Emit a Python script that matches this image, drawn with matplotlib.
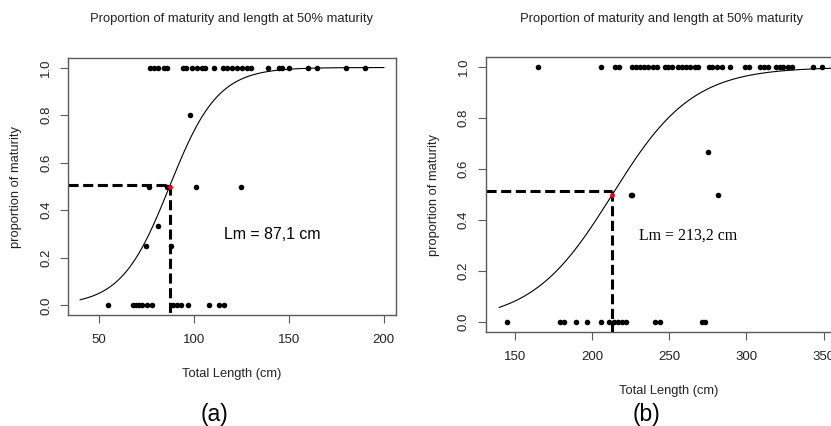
import matplotlib.pyplot as plt
import numpy as np

plt.rcParams['font.family'] = ['Liberation Sans', 'DejaVu Sans']

title = 'Proportion of maturity and length at 50% maturity'

# panel (a)
len_a = [77, 79, 81, 84, 86, 94, 96, 99, 101.5, 104, 106, 110.5, 115, 117.5, 120,
         122.5, 125.5, 128, 130, 139, 144.5, 146.5, 150, 160, 165, 180, 190,
         54.5, 68, 69.5, 71, 72.5, 75, 78, 89, 91, 93, 97, 108, 113, 116,
         74.5, 88, 81, 76.5, 85.5, 101, 125, 98]
prop_a = [1] * 27 + [0] * 14 + [0.25, 0.25, 0.333, 0.5, 0.5, 0.5, 0.5, 0.8]
lm_a = 87.1
slope_a = 0.0786
curve_range_a = (40, 200)
guide_y_a = 0.505
xticks_a = [50, 100, 150, 200]

# panel (b)
len_b = [165, 206, 215, 217.5, 226, 228.5, 231, 234, 236.5, 239.5, 242, 247, 249.5,
         252, 256, 258, 261, 263.5, 266.5, 269, 275.5, 278, 281, 284, 289.5, 299,
         302, 309, 311.5, 314, 319.5, 322, 324, 327, 329.5, 343, 349,
         145, 179.5, 182, 189.5, 197, 206, 211, 214.5, 217, 219.5, 222, 241, 244,
         271.5, 273.5,
         225, 226, 281.5, 275]
prop_b = [1] * 37 + [0] * 15 + [0.5, 0.5, 0.5, 0.667]
lm_b = 213.2
slope_b = 0.0384
curve_range_b = (140, 360)
guide_y_b = 0.512
xticks_b = [150, 200, 250, 300, 350]

yticks = [0.0, 0.2, 0.4, 0.6, 0.8, 1.0]

W, H = 831, 426
fig = plt.figure(figsize=(W / 100, H / 100), dpi=100)
txt = '#222222'


def px_axes(x0, x1, top, bottom):
    return fig.add_axes([x0 / W, (H - bottom) / H, (x1 - x0) / W, (bottom - top) / H])


def panel(ax, xs, ys, lm, slope, crange, gy, xticks, lab_text, lab_pos, lab_font):
    box = '#5a5a5a'
    lo, hi = crange
    pad = (hi - lo) * 0.04
    ax.set_xlim(lo - pad, hi + pad)
    ax.set_ylim(-0.04, 1.04)
    xx = np.linspace(lo, hi, 300)
    ax.plot(xx, 1 / (1 + np.exp(-slope * (xx - lm))), color='black', lw=0.8)
    ax.scatter(xs, ys, s=16, color='black', zorder=3, linewidths=0)
    ax.plot([lo - pad, lm], [gy, gy], color='black', lw=2.2, dashes=(3.3, 1.5))
    ax.plot([lm, lm], [gy, -0.04], color='black', lw=2.2, dashes=(3.3, 1.5))
    ax.scatter([lm], [0.5], s=12, color='red', zorder=4, linewidths=0)
    ax.text(lab_pos[0], lab_pos[1], lab_text, ha='center', va='center',
            fontsize=11.4, color='black', family=lab_font)
    ax.set_xticks(xticks)
    ax.set_yticks(yticks)
    ax.set_yticklabels(['%.1f' % v for v in yticks], rotation=90, va='center')
    ax.tick_params(direction='out', length=5.5, width=0.8, color=box,
                   labelsize=9.5, labelcolor=txt)
    ax.tick_params(axis='x', pad=8)
    ax.tick_params(axis='y', pad=6)
    for s in ax.spines.values():
        s.set_color(box)
        s.set_linewidth(1.0)
    ax.set_xlabel('Total Length (cm)', fontsize=9.3, color=txt, labelpad=16)
    ax.set_ylabel('proportion of maturity', fontsize=9.3, color=txt, labelpad=13)


ax_a = px_axes(68, 396, 58, 315)
panel(ax_a, len_a, prop_a, lm_a, slope_a, curve_range_a, guide_y_a, xticks_a,
      'Lm = 87,1 cm', (141, 0.30), ['Liberation Sans'])

ax_b = px_axes(485.7, 852.6, 57, 332)
panel(ax_b, len_b, prop_b, lm_b, slope_b, curve_range_b, guide_y_b, xticks_b,
      'Lm = 213,2 cm', (262, 0.34), ['Liberation Serif'])

fig.text(231.5 / W, 1 - 19 / H, title, ha='center', va='center', fontsize=9.4, color=txt)
fig.text(661 / W, 1 - 19 / H, title, ha='center', va='center', fontsize=9.4, color=txt)
fig.text(214 / W, 1 - 403 / H, '(a)', ha='center', va='top', fontsize=16.5, color='black')
fig.text(647 / W, 1 - 403 / H, '(b)', ha='center', va='top', fontsize=16.5, color='black')

fig.savefig('out.png', dpi=100)
